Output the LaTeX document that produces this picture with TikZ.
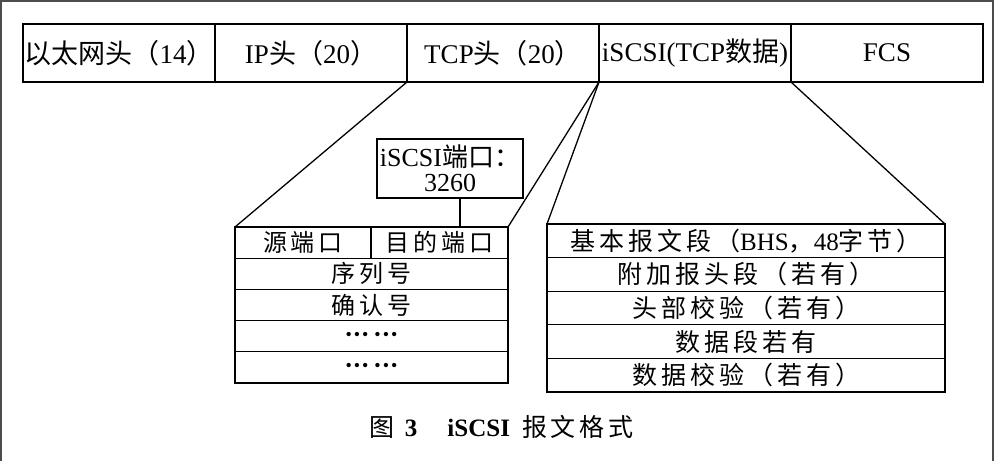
\documentclass[tikz,border=0pt]{standalone}
\usepackage{fontspec}
\setmainfont{Liberation Serif}
\newfontfamily\cjk{Noto Sans CJK SC}
\newfontfamily\cjks{Noto Sans CJK SC}[LetterSpace=16]
\usepackage{tikz}
\usetikzlibrary{positioning}
\newcommand\dotrow{{\fontsize{18}{18}\selectfont •\hspace{2pt}•\hspace{2pt}•\hspace{6pt}•\hspace{2pt}•\hspace{2pt}•}}

\begin{document}
\begin{tikzpicture}[x=1pt, y=-1pt, line width=1.3pt,
	cell/.style = {draw, inner sep=0pt, outer sep=0pt, minimum width=192pt, minimum height=58pt, font=\fontsize{27}{29}\selectfont},
	row/.style = {draw, inner sep=0pt, outer sep=0pt, minimum width=273pt, minimum height=31.2pt, font=\fontsize{24}{26}\selectfont},
	seg/.style = {row, minimum width=398pt, minimum height=33.6pt, font=\fontsize{25}{27}\selectfont},
	portbox/.style = {draw, inner sep=0pt, outer sep=0pt, minimum width=146pt, minimum height=59pt, align=center, font=\fontsize{26}{25}\selectfont}]
	\useasboundingbox (0,0) rectangle (994,461);
	\draw[gray!60!black, line width=1.5pt] (0.75,461) -- (0.75,0.75) -- (993,0.75) -- (993,461);
	\node[cell] (eth) at (119,53) {{\cjk 以太网头（}14{\cjk ）}};
	\node[cell] (ip) [right=0pt of eth] {IP{\cjk 头（}20{\cjk ）}};
	\node[cell] (tcp) [right=0pt of ip] {TCP{\cjk 头（}20{\cjk ）}};
	\node[cell] (data) [right=0pt of tcp] {iSCSI(TCP{\cjk 数据})};
	\node[cell] (fcs) [right=0pt of data] {FCS};
	\node[portbox] (port) at (450,168.5) {iSCSI{\cjk 端口：}\\3260};
	\node[row, minimum width=136pt, anchor=north west] (src) at (235,227) {\cjks 源端口};
	\node[row, minimum width=137pt] (dst) [right=0pt of src] {\cjks 目的端口};
	\node[row, anchor=north west] (seq) at (src.south west) {\cjks 序列号};
	\node[row] (ack) [below=0pt of seq] {\cjks 确认号};
	\node[row] (dots1) [below=0pt of ack] {\dotrow};
	\node[row] (dots2) [below=0pt of dots1] {\dotrow};
	\node[seg, anchor=north west] (bhs) at (547,224) {{\cjks 基本报文段（}BHS{\cjk ，}48{\cjks 字节）}};
	\node[seg] (ahs) [below=0pt of bhs] {\cjks 附加报头段（若有）};
	\node[seg] (hdig) [below=0pt of ahs] {\cjks 头部校验（若有）};
	\node[seg] (dseg) [below=0pt of hdig] {\cjks 数据段若有};
	\node[seg] (ddig) [below=0pt of dseg] {\cjks 数据校验（若有）};
	\node[font=\fontsize{25}{27}\selectfont] (cap) at (502,427) {{\cjk 图}\hspace{10pt}\textbf{3}\hspace{30pt}\textbf{iSCSI}\hspace{12pt}{\cjks 报文格式}};
	\draw (tcp.south west) -- (src.north west);
	\draw (tcp.south east) -- (dst.north east);
	\draw (tcp.south east) -- (bhs.north west);
	\draw (data.south east) -- (bhs.north east);
	\draw ([xshift=10pt]port.south) -- ([xshift=10pt]port.south |- dst.north);
\end{tikzpicture}
\end{document}
